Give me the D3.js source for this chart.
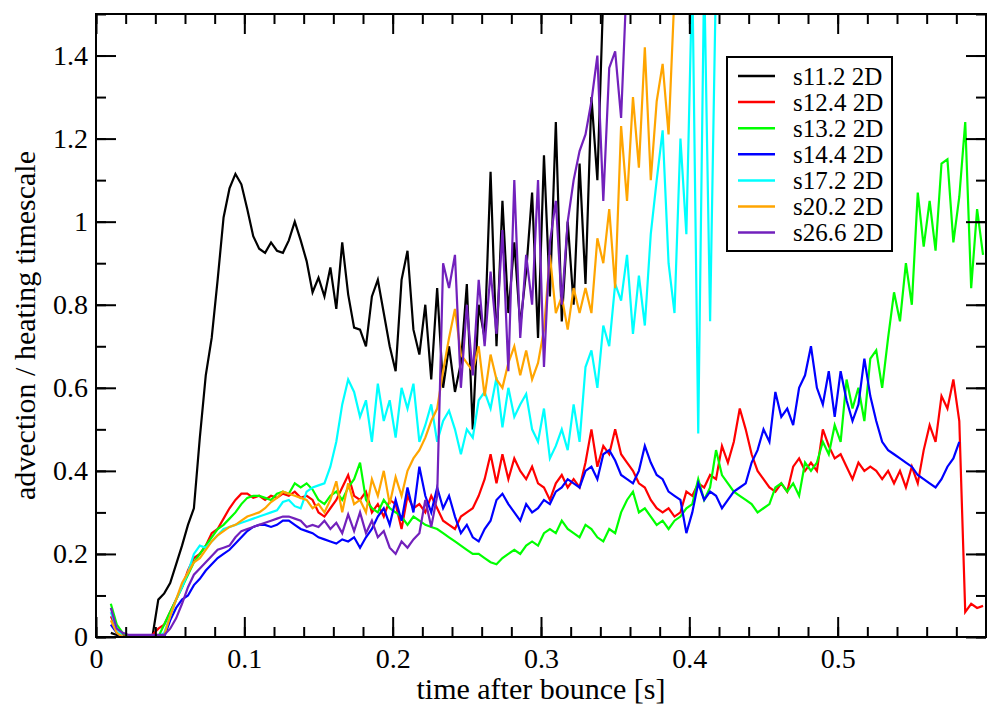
<!DOCTYPE html>
<html>
<head>
<meta charset="utf-8">
<script src="https://cdn.jsdelivr.net/npm/d3@7"></script>
<style>
  body { margin: 0; background: #fff; }
  svg { display: block; }
  svg text { font-family: "Liberation Serif", "Times New Roman", serif; }
</style>
</head>
<body>
<div id="chart"></div>
<script>
// series names and colours (legend order = draw order)
const names = ['s11.2 2D', 's12.4 2D', 's13.2 2D', 's14.4 2D', 's17.2 2D', 's20.2 2D', 's26.6 2D'];
const colors = ['#000000', '#ff0000', '#00ff00', '#0000ff', '#00ffff', '#ffa500', '#7221bc'];

// sample times [s] (each series uses the first n of them)
const times = [
  0.010, 0.014, 0.018, 0.022, 0.026, 0.030, 0.034, 0.038, 0.042, 0.046,
  0.050, 0.054, 0.058, 0.062, 0.066, 0.070, 0.074, 0.078, 0.082, 0.086,
  0.090, 0.094, 0.098, 0.102, 0.106, 0.110, 0.114, 0.118, 0.122, 0.126,
  0.130, 0.134, 0.138, 0.142, 0.146, 0.150, 0.154, 0.158, 0.162, 0.166,
  0.170, 0.174, 0.178, 0.182, 0.186, 0.190, 0.194, 0.198, 0.202, 0.206,
  0.210, 0.214, 0.218, 0.222, 0.226, 0.230, 0.234, 0.238, 0.242, 0.246,
  0.250, 0.254, 0.258, 0.262, 0.266, 0.270, 0.274, 0.278, 0.282, 0.286,
  0.290, 0.294, 0.298, 0.302, 0.306, 0.310, 0.314, 0.318, 0.322, 0.326,
  0.330, 0.334, 0.338, 0.342, 0.346, 0.350, 0.354, 0.358, 0.362, 0.366,
  0.370, 0.374, 0.378, 0.382, 0.386, 0.390, 0.394, 0.398, 0.402, 0.406,
  0.410, 0.414, 0.418, 0.422, 0.426, 0.430, 0.434, 0.438, 0.442, 0.446,
  0.450, 0.454, 0.458, 0.462, 0.466, 0.470, 0.474, 0.478, 0.482, 0.486,
  0.490, 0.494, 0.498, 0.502, 0.506, 0.510, 0.514, 0.518, 0.522, 0.526,
  0.530, 0.534, 0.538, 0.542, 0.546, 0.550, 0.554, 0.558, 0.562, 0.566,
  0.570, 0.574, 0.578, 0.582, 0.586, 0.590, 0.594, 0.598
];

// advection / heating timescale ratio
const s112 = [
  0.01, 0.005, 0, 0, 0, 0, 0, 0, 0.09, 0.105,
  0.13, 0.175, 0.22, 0.27, 0.31, 0.48, 0.63, 0.72, 0.86, 1.01,
  1.08, 1.115, 1.09, 1.03, 0.965, 0.935, 0.925, 0.95, 0.93, 0.925,
  0.955, 1.0, 0.955, 0.905, 0.83, 0.865, 0.82, 0.89, 0.79, 0.95,
  0.825, 0.745, 0.74, 0.70, 0.82, 0.86, 0.78, 0.70, 0.64, 0.86,
  0.93, 0.74, 0.68, 0.80, 0.62, 0.84, 0.60, 0.70, 0.59, 0.66,
  0.85, 0.50, 0.80, 0.72, 1.12, 0.70, 1.05, 0.78, 0.95, 0.75,
  0.88, 1.07, 0.72, 1.16, 0.82, 1.24, 0.76, 1.0, 0.80, 1.14,
  0.85, 1.30, 1.10, 1.55
];
const s124 = [
  0.05, 0.02, 0.005, 0, 0, 0, 0, 0.005, 0.02, 0.03,
  0.06, 0.09, 0.12, 0.16, 0.19, 0.20, 0.22, 0.25, 0.26, 0.285,
  0.31, 0.33, 0.345, 0.345, 0.335, 0.34, 0.33, 0.34, 0.335, 0.345,
  0.34, 0.35, 0.335, 0.34, 0.33, 0.30, 0.29, 0.31, 0.33, 0.36,
  0.39, 0.34, 0.33, 0.35, 0.30, 0.32, 0.29, 0.33, 0.32, 0.26,
  0.34, 0.31, 0.32, 0.30, 0.34, 0.31, 0.28, 0.27, 0.26, 0.29,
  0.30, 0.31, 0.34, 0.38, 0.44, 0.37, 0.44, 0.38, 0.43, 0.40,
  0.38, 0.41, 0.37, 0.36, 0.33, 0.37, 0.39, 0.36, 0.38, 0.36,
  0.42, 0.50, 0.41, 0.46, 0.44, 0.50, 0.44, 0.42, 0.40, 0.37,
  0.36, 0.33, 0.31, 0.30, 0.31, 0.29, 0.30, 0.35, 0.34, 0.37,
  0.36, 0.39, 0.38, 0.46, 0.42, 0.47, 0.55, 0.50, 0.44, 0.40,
  0.38, 0.36, 0.35, 0.37, 0.35, 0.41, 0.43, 0.40, 0.42, 0.40,
  0.50, 0.46, 0.43, 0.44, 0.41, 0.38, 0.42, 0.40, 0.41, 0.40,
  0.38, 0.40, 0.37, 0.40, 0.36, 0.41, 0.37, 0.45, 0.51, 0.47,
  0.58, 0.55, 0.62, 0.52, 0.06, 0.08, 0.07, 0.075
];
const s132 = [
  0.08, 0.03, 0.01, 0, 0, 0, 0, 0, 0, 0.03,
  0.06, 0.09, 0.12, 0.15, 0.18, 0.20, 0.22, 0.24, 0.26, 0.27,
  0.285, 0.30, 0.32, 0.335, 0.34, 0.34, 0.335, 0.33, 0.345, 0.35,
  0.345, 0.37, 0.36, 0.37, 0.355, 0.33, 0.32, 0.34, 0.35, 0.33,
  0.36, 0.38, 0.42, 0.33, 0.31, 0.30, 0.33, 0.31, 0.30, 0.29,
  0.27, 0.29, 0.28, 0.27, 0.265, 0.26, 0.25, 0.24, 0.23, 0.22,
  0.21, 0.20, 0.20, 0.19, 0.18, 0.175, 0.19, 0.20, 0.21, 0.20,
  0.22, 0.23, 0.22, 0.25, 0.26, 0.25, 0.28, 0.26, 0.25, 0.24,
  0.27, 0.26, 0.24, 0.23, 0.26, 0.25, 0.30, 0.33, 0.35, 0.30,
  0.31, 0.29, 0.27, 0.28, 0.26, 0.28, 0.29, 0.31, 0.32, 0.38,
  0.33, 0.36, 0.45, 0.39, 0.37, 0.35, 0.34, 0.33, 0.32, 0.30,
  0.31, 0.32, 0.36, 0.37, 0.35, 0.37, 0.34, 0.42, 0.40, 0.42,
  0.47, 0.44, 0.51, 0.47, 0.62, 0.55, 0.60, 0.52, 0.67, 0.69,
  0.60, 0.72, 0.83, 0.76, 0.90, 0.80, 1.07, 0.94, 1.05, 0.93,
  1.14, 1.15, 0.95, 1.06, 1.24, 0.84, 1.03, 0.92
];
const s144 = [
  0.03, 0.01, 0, 0, 0, 0, 0, 0, 0, 0,
  0.04, 0.07, 0.09, 0.10, 0.125, 0.14, 0.16, 0.175, 0.19, 0.20,
  0.21, 0.225, 0.24, 0.255, 0.265, 0.27, 0.27, 0.265, 0.27, 0.28,
  0.28, 0.27, 0.26, 0.255, 0.25, 0.24, 0.235, 0.23, 0.225, 0.235,
  0.23, 0.24, 0.215, 0.24, 0.26, 0.29, 0.31, 0.27, 0.33, 0.28,
  0.36, 0.30, 0.41, 0.34, 0.30, 0.36, 0.31, 0.34, 0.29, 0.25,
  0.27, 0.24, 0.23, 0.26, 0.28, 0.33, 0.345, 0.32, 0.30, 0.28,
  0.32, 0.30, 0.31, 0.33, 0.32, 0.35, 0.36, 0.38, 0.37, 0.36,
  0.40, 0.41, 0.38, 0.44, 0.45, 0.425, 0.39, 0.38, 0.37, 0.40,
  0.46, 0.42, 0.39, 0.38, 0.35, 0.34, 0.33, 0.25, 0.30, 0.37,
  0.33, 0.35, 0.34, 0.31, 0.33, 0.35, 0.36, 0.37, 0.42, 0.45,
  0.50, 0.47, 0.59, 0.53, 0.55, 0.51, 0.60, 0.63, 0.70, 0.60,
  0.56, 0.64, 0.53, 0.64, 0.57, 0.52, 0.56, 0.67, 0.58, 0.52,
  0.47, 0.45, 0.44, 0.43, 0.42, 0.41, 0.39, 0.38, 0.37, 0.36,
  0.38, 0.41, 0.43, 0.47
];
const s172 = [
  0.06, 0.02, 0, 0, 0, 0, 0, 0, 0, 0.01,
  0.05, 0.09, 0.12, 0.155, 0.20, 0.22, 0.215, 0.23, 0.245, 0.26,
  0.265, 0.27, 0.275, 0.28, 0.285, 0.29, 0.295, 0.30, 0.305, 0.325,
  0.33, 0.315, 0.31, 0.35, 0.36, 0.365, 0.37, 0.41, 0.47, 0.56,
  0.62, 0.59, 0.53, 0.57, 0.47, 0.61, 0.52, 0.57, 0.48, 0.60,
  0.55, 0.61, 0.47, 0.51, 0.56, 0.47, 0.52, 0.545, 0.50, 0.44,
  0.50, 0.48, 0.57, 0.59, 0.55, 0.625, 0.505, 0.60, 0.53, 0.56,
  0.585, 0.50, 0.47, 0.55, 0.43, 0.46, 0.50, 0.45, 0.56, 0.47,
  0.65, 0.69, 0.60, 0.75, 0.70, 0.85, 0.81, 0.92, 0.73, 0.87,
  0.75, 0.97, 1.10, 1.22, 0.90, 0.78, 1.20, 0.97, 1.60, 0.49,
  1.60, 0.76, 1.60
];
const s202 = [
  0.04, 0.01, 0, 0, 0, 0, 0, 0, 0, 0.005,
  0.05, 0.09, 0.13, 0.155, 0.18, 0.19, 0.21, 0.23, 0.245, 0.255,
  0.265, 0.27, 0.28, 0.29, 0.295, 0.30, 0.31, 0.325, 0.335, 0.35,
  0.345, 0.34, 0.335, 0.33, 0.31, 0.32, 0.30, 0.33, 0.375, 0.30,
  0.37, 0.32, 0.33, 0.30, 0.38, 0.34, 0.40, 0.32, 0.385, 0.34,
  0.40, 0.43, 0.45, 0.48, 0.52, 0.55, 0.64, 0.72, 0.79, 0.68,
  0.66, 0.64, 0.70, 0.58, 0.68, 0.62, 0.60, 0.66, 0.70, 0.63,
  0.69, 0.62, 0.66, 0.74, 0.92, 0.78, 0.82, 0.74, 0.84, 0.78,
  0.84, 0.78, 0.96, 0.90, 1.03, 0.84, 1.23, 1.05, 1.30, 1.13,
  1.42, 1.10, 1.29, 1.38, 1.21, 1.55, 1.60
];
const s266 = [
  0.07, 0.02, 0.01, 0.005, 0.005, 0.005, 0.005, 0.005, 0.005, 0.005,
  0.02, 0.045, 0.08, 0.12, 0.15, 0.165, 0.18, 0.195, 0.21, 0.215,
  0.22, 0.24, 0.255, 0.26, 0.265, 0.27, 0.275, 0.28, 0.285, 0.29,
  0.29, 0.285, 0.28, 0.265, 0.27, 0.265, 0.28, 0.26, 0.275, 0.25,
  0.295, 0.255, 0.30, 0.25, 0.28, 0.24, 0.255, 0.215, 0.20, 0.23,
  0.215, 0.235, 0.25, 0.33, 0.265, 0.34, 0.90, 0.84, 0.92, 0.60,
  0.80, 0.63, 0.86, 0.70, 0.88, 0.73, 0.98, 0.64, 1.10, 0.72,
  0.92, 0.80, 1.10, 0.65, 0.95, 1.05, 0.80, 1.00, 1.10, 1.17,
  1.21, 1.29, 1.40, 1.05, 1.37, 1.41, 1.25, 1.60
];
const seriesValues = [s112, s124, s132, s144, s172, s202, s266];

const xTicks = [0, 0.1, 0.2, 0.3, 0.4, 0.5];
const yTicks = [0, 0.2, 0.4, 0.6, 0.8, 1, 1.2, 1.4];

const width = 987, height = 707;
const margin = { top: 14, right: 1, bottom: 70, left: 96 };
const innerW = width - margin.left - margin.right;
const innerH = height - margin.top - margin.bottom;
const serif = '"Liberation Serif", "Times New Roman", serif';

const x = d3.scaleLinear().domain([0, 0.6]).range([0, innerW]);
const y = d3.scaleLinear().domain([0, 1.5]).range([innerH, 0]);

const svg = d3.select('#chart').append('svg')
    .attr('width', width)
    .attr('height', height);

const g = svg.append('g')
    .attr('transform', `translate(${margin.left},${margin.top})`);

g.append('clipPath').attr('id', 'plot-clip')
    .append('rect').attr('width', innerW).attr('height', innerH);

// data lines
const data = names.map((name, i) => ({
    name,
    color: colors[i],
    points: seriesValues[i].map((v, j) => [times[j], v])
}));

const line = d3.line()
    .x(d => x(d[0]))
    .y(d => y(d[1]));

g.append('g')
    .attr('clip-path', 'url(#plot-clip)')
    .selectAll('path')
    .data(data)
    .join('path')
    .attr('fill', 'none')
    .attr('stroke', d => d.color)
    .attr('stroke-width', 2.2)
    .attr('stroke-linejoin', 'miter')
    .attr('d', d => line(d.points));

// axes: ticks pointing inward on all four sides
const xMinor = d3.range(0, 0.601, 0.02);
const yMinor = d3.range(0, 1.501, 0.1);
const fmt = d => String(d);

const styleAxis = sel => {
    sel.attr('font-family', serif).attr('font-size', 28);
    sel.select('.domain').remove();
    sel.selectAll('line').attr('stroke', '#000').attr('stroke-width', 2);
    sel.selectAll('text')
        .attr('fill', '#000')
        .style('font-family', serif)
        .style('font-size', '28px');
};

g.append('g').attr('transform', `translate(0,${innerH})`)
    .call(d3.axisBottom(x).tickValues(xMinor).tickSize(-10).tickFormat(''))
    .call(styleAxis);
g.append('g').attr('transform', `translate(0,${innerH})`)
    .call(d3.axisBottom(x).tickValues(xTicks).tickSize(-20).tickPadding(11).tickFormat(fmt))
    .call(styleAxis);
g.append('g')
    .call(d3.axisTop(x).tickValues(xMinor).tickSize(-10).tickFormat(''))
    .call(styleAxis);
g.append('g')
    .call(d3.axisTop(x).tickValues(xTicks).tickSize(-20).tickFormat(''))
    .call(styleAxis);

g.append('g')
    .call(d3.axisLeft(y).tickValues(yMinor).tickSize(-10).tickFormat(''))
    .call(styleAxis);
g.append('g')
    .call(d3.axisLeft(y).tickValues(yTicks).tickSize(-20).tickPadding(8).tickFormat(fmt))
    .call(styleAxis);
g.append('g').attr('transform', `translate(${innerW},0)`)
    .call(d3.axisRight(y).tickValues(yMinor).tickSize(-10).tickFormat(''))
    .call(styleAxis);
g.append('g').attr('transform', `translate(${innerW},0)`)
    .call(d3.axisRight(y).tickValues(yTicks).tickSize(-20).tickFormat(''))
    .call(styleAxis);

// frame
g.append('rect')
    .attr('width', innerW)
    .attr('height', innerH)
    .attr('fill', 'none')
    .attr('stroke', '#000')
    .attr('stroke-width', 2);

// axis titles
svg.append('text')
    .attr('x', margin.left + innerW / 2)
    .attr('y', 699)
    .attr('text-anchor', 'middle')
    .style('font-family', serif)
    .style('font-size', '30px')
    .text('time after bounce [s]');

svg.append('text')
    .attr('transform', `translate(35,${margin.top + innerH / 2}) rotate(-90)`)
    .attr('text-anchor', 'middle')
    .style('font-family', serif)
    .style('font-size', '30px')
    .text('advection / heating timescale');

// legend
const legend = svg.append('g').attr('transform', 'translate(727,57)');
legend.append('rect')
    .attr('width', 165)
    .attr('height', 194)
    .attr('fill', '#fff')
    .attr('stroke', '#000')
    .attr('stroke-width', 2);

const item = legend.selectAll('g.item')
    .data(data)
    .join('g')
    .attr('class', 'item')
    .attr('transform', (d, i) => `translate(0,${19 + i * 26.1})`);

item.append('line')
    .attr('x1', 11).attr('x2', 48)
    .attr('stroke', d => d.color)
    .attr('stroke-width', 2.5);

item.append('text')
    .attr('x', 66)
    .attr('dy', '0.35em')
    .style('font-family', serif)
    .style('font-size', '25px')
    .text(d => d.name);
</script>
</body>
</html>
